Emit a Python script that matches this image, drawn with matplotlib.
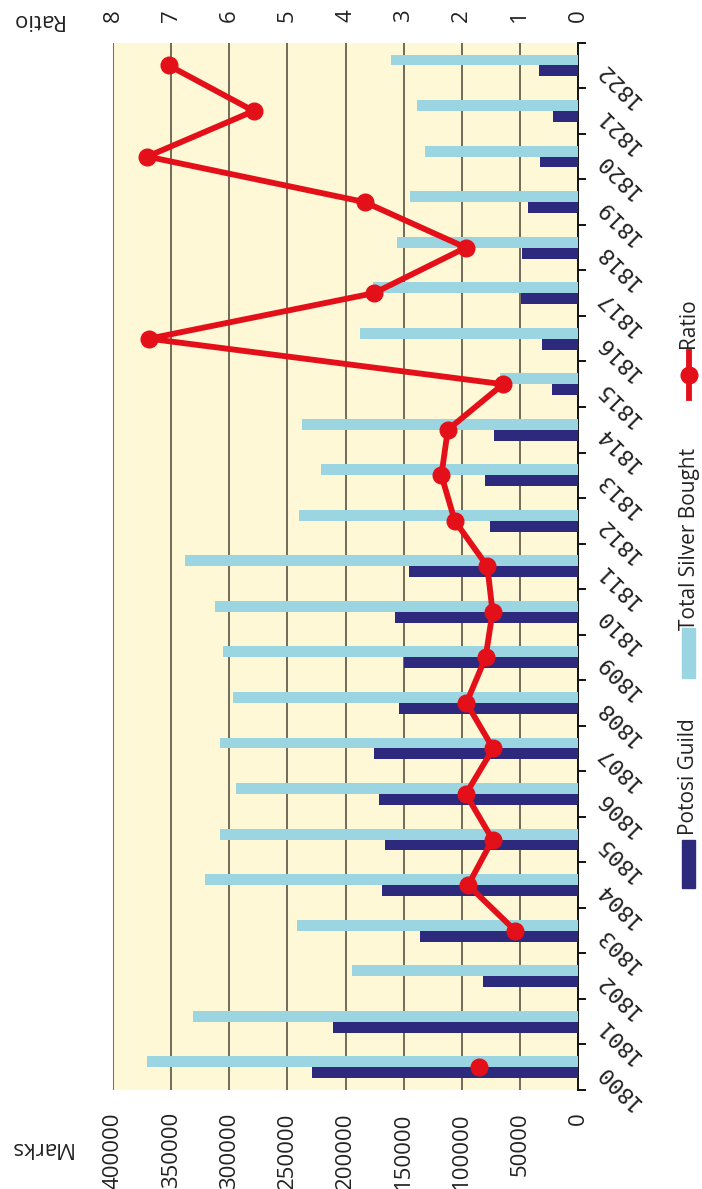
import numpy as np
import matplotlib.pyplot as plt
from matplotlib.patches import Rectangle
from matplotlib.lines import Line2D

plt.rcParams['font.family'] = ['Open Sans', 'DejaVu Sans']

years = [str(y) for y in range(1800, 1823)]
potosi_guild = [229000, 210900, 81800, 136000, 169000, 165900, 171600, 175600,
                153800, 149800, 157500, 145200, 76000, 79800, 72300, 22600,
                31000, 49300, 48500, 43300, 33000, 21800, 33800]
total_silver = [371000, 331400, 194500, 241900, 320800, 308200, 293800, 308200,
                297000, 305600, 311900, 338000, 240400, 221200, 237300, 67100,
                187100, 176200, 155500, 144900, 132000, 138600, 161000]
ratio = [1.70, np.nan, np.nan, 1.08, 1.89, 1.47, 1.93, 1.46, 1.92, 1.59, 1.47,
         1.56, 2.12, 2.35, 2.24, 1.29, 7.38, 3.51, 1.93, 3.67, 7.41, 5.58, 7.04]
marks_ticks = [0, 50000, 100000, 150000, 200000, 250000, 300000, 350000, 400000]
ratio_ticks = [0, 1, 2, 3, 4, 5, 6, 7, 8]

navy = '#2d2a7d'
light_blue = '#9bd5e1'
red = '#e3101a'
cream = '#fef8d6'

W, H = 702, 1189
fig = plt.figure(figsize=(W / 100, H / 100), dpi=100)
ax = fig.add_axes([113 / W, 1 - 1090 / H, (578 - 113) / W, (1090 - 42.7) / H])
ax.set_facecolor(cream)

y = np.arange(len(years))
bh = 0.24
ax.barh(y + bh / 2, total_silver, height=bh, color=light_blue, zorder=3)
ax.barh(y - bh / 2, potosi_guild, height=bh, color=navy, zorder=3)

ax.set_xlim(400000, 0)
ax.set_ylim(-0.5, len(years) - 0.5)

# value gridlines
for v in marks_ticks[1:]:
    ax.axvline(v, color='#4a4638', lw=1.1, zorder=1)

ax.set_xticks(marks_ticks)
ax.set_xticklabels([str(v) for v in marks_ticks], rotation=90, fontsize=16,
                   color='#222222')
ax.tick_params(axis='x', length=0, pad=16)

# category axis on the right side
ax.yaxis.tick_right()
ax.set_yticks(y)
ax.set_yticklabels(years, rotation=135, rotation_mode='anchor', ha='right',
                   va='center', family='DejaVu Sans Mono', fontsize=16,
                   color='#222222')
ax.set_yticks(np.arange(-0.5, len(years), 1), minor=True)
ax.tick_params(axis='y', which='major', length=0, pad=15)
ax.tick_params(axis='y', which='minor', length=6, width=1.4, color='#111111')

for s in ['top', 'bottom', 'left']:
    ax.spines[s].set_visible(False)
ax.spines['right'].set_linewidth(1.4)
ax.spines['right'].set_color('#111111')

# ratio axis on top
ax2 = ax.twiny()
ax2.set_xlim(8, 0)
ax2.plot(ratio, y, color=red, lw=4.2, marker='o', markersize=12, zorder=5)
ax2.set_xticks(ratio_ticks)
ax2.set_xticklabels([str(v) for v in ratio_ticks], rotation=90, fontsize=16,
                    color='#222222')
ax2.tick_params(axis='x', length=0, pad=15)
for s in ['top', 'bottom', 'left', 'right']:
    ax2.spines[s].set_visible(False)

fig.text(40 / W, 1 - 1148 / H, 'Marks', rotation=180, fontsize=16,
         ha='center', va='center', color='#222222')
fig.text(36 / W, 1 - 20 / H, 'Ratio', rotation=180, fontsize=16,
         ha='center', va='center', color='#222222')

# legend, drawn rotated
fig.patches.append(Rectangle((682 / W, 1 - 888 / H), 13 / W, 48 / H,
                             transform=fig.transFigure, color=navy))
fig.text(689 / W, 1 - 835 / H, 'Potosi Guild', rotation=90, fontsize=15,
         ha='center', va='bottom', color='#222222')
fig.patches.append(Rectangle((682 / W, 1 - 678 / H), 13 / W, 50 / H,
                             transform=fig.transFigure, color=light_blue))
fig.text(689 / W, 1 - 630 / H, 'Total Silver Bought', rotation=90, fontsize=15,
         ha='center', va='bottom', color='#222222')
fig.lines.append(Line2D([689 / W, 689 / W], [1 - 398 / H, 1 - 352 / H],
                        transform=fig.transFigure, color=red, lw=4.2))
fig.lines.append(Line2D([689 / W], [1 - 375 / H], transform=fig.transFigure,
                        color=red, marker='o', markersize=12))
fig.text(689 / W, 1 - 348 / H, 'Ratio', rotation=90, fontsize=15,
         ha='center', va='bottom', color='#222222')

fig.savefig('out.png', dpi=100)
